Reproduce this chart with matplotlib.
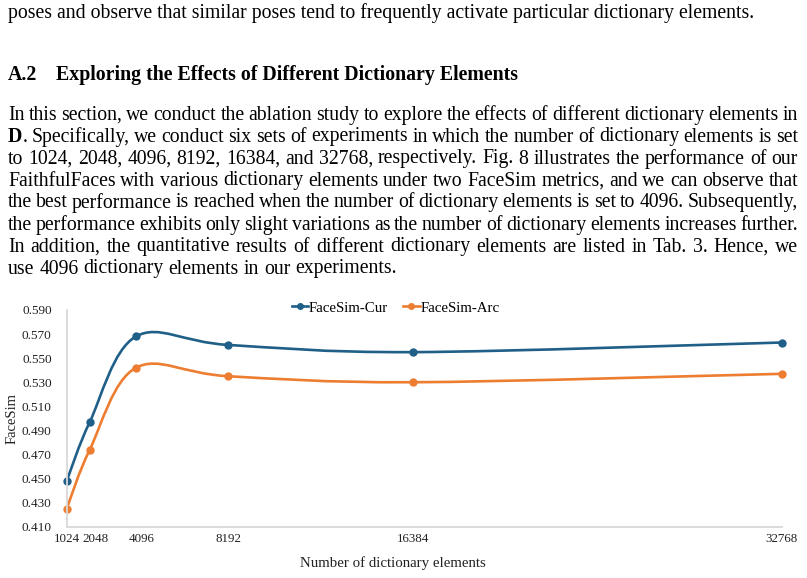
import numpy as np
import matplotlib.pyplot as plt
from matplotlib.path import Path
from matplotlib.patches import PathPatch
from matplotlib.lines import Line2D

plt.rcParams['font.family'] = ['Liberation Serif', 'DejaVu Serif']

# data
n_elements = [1024, 2048, 4096, 8192, 16384, 32768]
facesim_cur = [0.448, 0.497, 0.568, 0.561, 0.555, 0.563]
facesim_arc = [0.425, 0.474, 0.542, 0.535, 0.530, 0.537]
y_ticks = [0.41, 0.43, 0.45, 0.47, 0.49, 0.51, 0.53, 0.55, 0.57, 0.59]
x_label_shift = [0, 6, 5.5, 0, 0, 0]  # px, Excel nudges crowded labels

blue = '#1f5f88'
orange = '#ed7d31'

first_line = 'poses and observe that similar poses tend to frequently activate particular dictionary elements.'
heading_num = 'A.2'
heading = 'Exploring the Effects of Different Dictionary Elements'
para = [
    'In this section, we conduct the ablation study to explore the effects of different dictionary elements in',
    '\x00D. Specifically, we conduct six sets of experiments in which the number of dictionary elements is set',
    'to 1024, 2048, 4096, 8192, 16384, and 32768, respectively. Fig. 8 illustrates the performance of our',
    'FaithfulFaces with various dictionary elements under two FaceSim metrics, and we can observe that',
    'the best performance is reached when the number of dictionary elements is set to 4096. Subsequently,',
    'the performance exhibits only slight variations as the number of dictionary elements increases further.',
    'In addition, the quantitative results of different dictionary elements are listed in Tab. 3. Hence, we',
    'use 4096 dictionary elements in our experiments.',
]

W, H = 807, 578
fig = plt.figure(figsize=(W / 100, H / 100), dpi=100)
r = fig.canvas.get_renderer()


def width_px(t):
    return t.get_window_extent(renderer=r).width


def words_width(s, fs):
    ts = [fig.text(0, 0, w.replace('\x00', ''), fontsize=fs) for w in s.split(' ')]
    w = sum(width_px(t) for t in ts)
    for t in ts:
        t.remove()
    return w, len(ts)


def fit_size(s, target, weight='normal'):
    t = fig.text(0, 0, s, fontsize=13, weight=weight)
    w = width_px(t)
    t.remove()
    return 13 * target / w


body_fs = fit_size(first_line, 767)
for ln in para[:-1]:
    w, n = words_width(ln, 13)
    body_fs = min(body_fs, 13 * (790 - (n - 1) * 3.8) / w)
head_fs = fit_size(heading, 462, 'bold')

fig.text(8 / W, 1 - 13 / H, first_line, fontsize=body_fs, va='center')
fig.text(8 / W, 1 - 75 / H, heading_num, fontsize=head_fs, weight='bold', va='center')
fig.text(56 / W, 1 - 75 / H, heading, fontsize=head_fs, weight='bold', va='center')


def justify(line, y, x0=8, x1=798, last=False):
    items = []
    for w in line.split(' '):
        if w.startswith('\x00'):
            a = fig.text(0, 0, w[1], fontsize=body_fs, weight='bold', va='center')
            b = fig.text(0, 0, w[2:], fontsize=body_fs, va='center')
            items.append([a, b])
        else:
            items.append([fig.text(0, 0, w, fontsize=body_fs, va='center')])
    widths = [sum(width_px(t) for t in it) for it in items]
    if last:
        gap = 0.25 * body_fs * 100 / 72
    else:
        gap = (x1 - x0 - sum(widths)) / (len(items) - 1)
    x = x0
    for it, w in zip(items, widths):
        xx = x
        for t in it:
            t.set_position((xx / W, 1 - y / H))
            xx += width_px(t)
        x += w + gap


line_y = [115, 137, 159, 181, 203, 225, 247, 269]
for i, (ln, yy) in enumerate(zip(para, line_y)):
    justify(ln, yy, last=(i == len(para) - 1))

# chart
ax = fig.add_axes([66.7 / W, 1 - 526.7 / H, (782 - 66.7) / W, (526.7 - 310) / H])


def smooth_path(xs, ys):
    pts = np.column_stack([xs, ys]).astype(float)
    verts = [pts[0]]
    codes = [Path.MOVETO]
    n = len(pts)
    for i in range(n - 1):
        p0 = pts[i - 1] if i > 0 else pts[i]
        p1, p2 = pts[i], pts[i + 1]
        p3 = pts[i + 2] if i + 2 < n else pts[i + 1]
        verts += [p1 + (p2 - p0) / 6, p2 - (p3 - p1) / 6, p2]
        codes += [Path.CURVE4] * 3
    return Path(verts, codes)


for ys, c in [(facesim_cur, blue), (facesim_arc, orange)]:
    ax.add_patch(PathPatch(smooth_path(n_elements, ys), fc='none', ec=c, lw=1.9,
                           capstyle='round', clip_on=False))
    ax.plot(n_elements, ys, 'o', color=c, ms=5, clip_on=False)

ax.set_xlim(1024, 32768)
ax.set_ylim(0.41, 0.59)
ax.set_xticks(n_elements)
ax.set_xticklabels([])
for v, dx in zip(n_elements, x_label_shift):
    ax.annotate(str(v), xy=(v, 0), xycoords=('data', 'axes fraction'),
                xytext=(dx * 0.72, -9), textcoords='offset points',
                ha='center', va='center', fontsize=9.4, color='#222222')
ax.set_yticks(y_ticks)
ax.set_yticklabels(['%.3f' % v for v in y_ticks])
ax.tick_params(length=0, labelsize=9.5, colors='#222222')
ax.tick_params(axis='y', pad=10.8)
for s in ['top', 'right']:
    ax.spines[s].set_visible(False)
for s in ['left', 'bottom']:
    ax.spines[s].set_color('#d9d9d9')
    ax.spines[s].set_linewidth(1.3)

ax.set_xlabel('Number of dictionary elements', fontsize=10.7, color='#222222')
ax.xaxis.set_label_coords(0.456, -0.135)
ax.set_ylabel('FaceSim', fontsize=10.5, color='#222222')
ax.yaxis.set_label_coords(-0.067, 0.5)

handles = [Line2D([], [], color=blue, lw=1.9, marker='o', ms=4),
           Line2D([], [], color=orange, lw=1.9, marker='o', ms=4)]
ax.legend(handles, ['FaceSim-Cur', 'FaceSim-Arc'], loc='center', bbox_to_anchor=(0.46, 1.01),
          ncol=2, frameon=False, fontsize=10.7, handlelength=1.1, handletextpad=0.05,
          columnspacing=1.0)

fig.savefig('out.png', dpi=100)
